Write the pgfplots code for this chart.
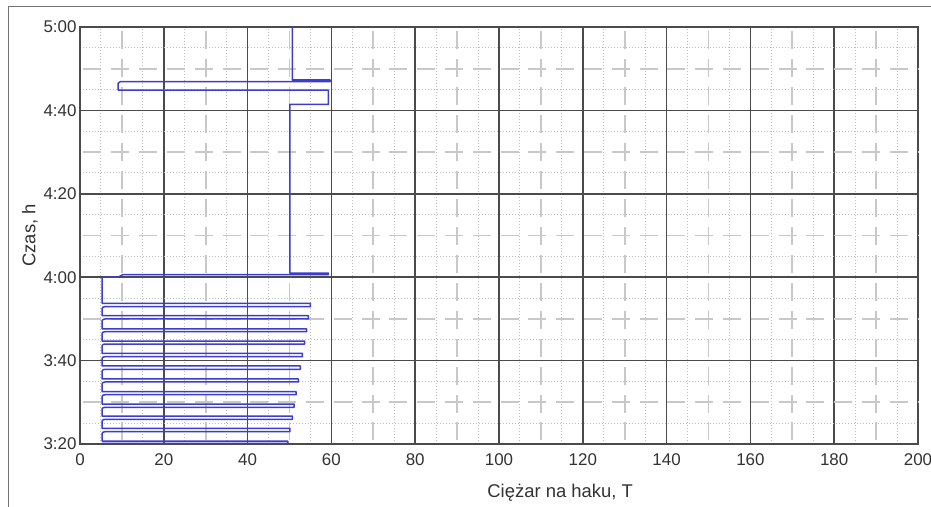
\documentclass[border=0pt]{standalone}
\usepackage{fontspec}
\setmainfont{Liberation Sans}
\usepackage{pgfplots}
\pgfplotsset{compat=1.18}
\definecolor{trace}{RGB}{60,60,205}
\definecolor{majgrid}{RGB}{75,75,75}
\definecolor{mingrid}{RGB}{190,190,190}
\definecolor{dashgrid}{RGB}{200,200,200}
\definecolor{txt}{RGB}{50,50,50}
\begin{document}
\begin{tikzpicture}
\useasboundingbox (-80bp,-63bp) rectangle (851bp,444bp);
\draw[line width=1.5bp, color=black!55] (-71.5bp,-70bp) -- (-71.5bp,437.5bp) -- (860bp,437.5bp);
\begin{axis}[
  at={(0,0)}, anchor=south west,
  scale only axis, width=838bp, height=417bp,
  xmin=0, xmax=200, ymin=200, ymax=300,
  xtick={0,20,...,200}, ytick={200,220,...,300},
  yticklabels={3:20,3:40,4:00,4:20,4:40,5:00},
  minor xtick={5,15,...,195}, minor ytick={205,215,...,295},
  extra x ticks={10,30,...,190}, extra y ticks={210,230,...,290},
  extra x tick labels={}, extra y tick labels={},
  extra x tick style={major grid style={color=dashgrid, line width=1.8bp, dash pattern=on 18bp off 9.93bp, dash phase=24.4bp}},
  extra y tick style={major grid style={color=dashgrid, line width=1.8bp, dash pattern=on 18bp off 9.8bp, dash phase=24.3bp}},
  grid=both,
  major grid style={color=majgrid, line width=1.5bp},
  minor grid style={color=mingrid, line width=1bp, dash pattern=on 1.3bp off 1.7bp},
  major tick length=0pt, minor tick length=0pt,
  axis line style={color=majgrid, line width=1.5bp},
  tick label style={font=\fontsize{17}{20}\selectfont, color=txt},
  xticklabel style={yshift=-6bp},
  /pgf/number format/assume math mode=true,
  xlabel={Ciężar na haku, T}, ylabel={Czas, h},
  label style={font=\fontsize{18.5}{21}\selectfont, color=txt},
  xlabel style={at={(axis description cs:0.573,-0.117)}, anchor=center},
  ylabel style={at={(axis description cs:-0.0597,0.5)}, anchor=center},
]
\addplot[trace, line width=1.5bp, line join=round, mark=none] coordinates {
(5.3,200.15) (49.6,200.15) (49.6,200.7) (5.3,200.7)
(5.3,202.6) (5.5,202.83) (6.0,202.95) (50.1,202.95) (50.1,203.77) (5.3,203.77)
(5.3,205.57) (5.5,205.80) (6.0,205.92) (50.7,205.92) (50.7,206.71) (5.3,206.71)
(5.3,208.45) (5.5,208.68) (6.0,208.80) (51.1,208.80) (51.1,209.59) (5.3,209.59)
(5.3,211.47) (5.5,211.70) (6.0,211.82) (51.6,211.82) (51.6,212.54) (5.3,212.54)
(5.3,214.52) (5.5,214.75) (6.0,214.87) (52.1,214.87) (52.1,215.59) (5.3,215.59)
(5.3,217.56) (5.5,217.79) (6.0,217.91) (52.6,217.91) (52.6,218.71) (5.3,218.71)
(5.3,220.59) (5.5,220.82) (6.0,220.94) (53.1,220.94) (53.1,221.75) (5.3,221.75)
(5.3,223.63) (5.5,223.86) (6.0,223.98) (53.6,223.98) (53.6,224.70) (5.3,224.70)
(5.3,226.58) (5.5,226.81) (6.0,226.93) (54.1,226.93) (54.1,227.58) (5.3,227.58)
(5.3,229.63) (5.5,229.86) (6.0,229.98) (54.5,229.98) (54.5,230.77) (5.3,230.77)
(5.3,232.58) (5.5,232.81) (6.0,232.93) (55.0,232.93) (55.0,233.74) (5.3,233.74)
(5.3,240.0) (9.1,240.0) (10.2,240.6) (59.3,240.6) (59.3,241.0) (50.1,241.0)
(50.1,281.46) (59.3,281.46) (59.3,284.89) (9.1,284.89) (9.1,286.5) (9.6,286.88)
(59.7,286.88) (59.7,287.29) (50.7,287.29) (50.7,301)
};
\end{axis}
\end{tikzpicture}
\end{document}
